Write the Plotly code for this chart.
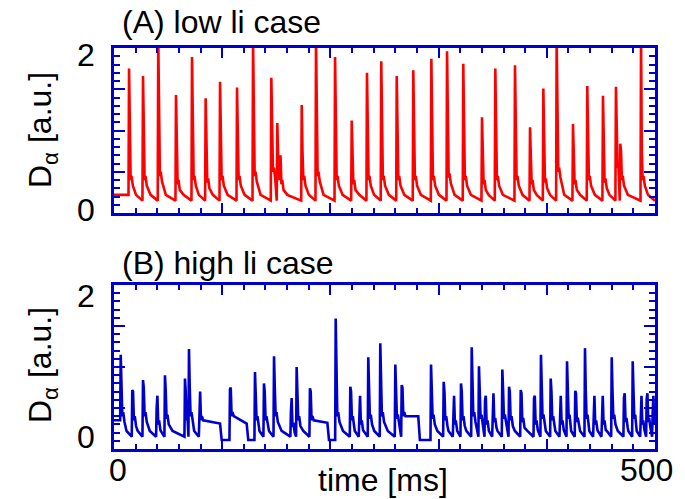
import plotly.graph_objects as go
from plotly.subplots import make_subplots

# ---------------- data ----------------
# (A) low li case : ELM spike times [ms], peak heights [a.u.], echo levels
low_t = [13.9, 26.8, 40.9, 57.3, 72.1, 84.7, 98.0, 113.7, 128.5, 145.4, 150.9, 153.2,
         173.5, 186.7, 204.3, 219.7, 233.8, 247.0, 261.3, 276.6, 293.3, 307.8, 322.8,
         340.1, 352.4, 370.6, 384.5, 396.8, 409.1, 424.2, 437.4, 451.9, 463.9, 467.9, 487.1]
low_peak = [1.75, 1.66, 2.10, 1.43, 1.89, 1.39, 1.59, 1.52, 2.10, 1.64, 1.09, 0.69,
            1.31, 2.10, 1.89, 1.12, 1.70, 1.84, 1.66, 1.73, 1.87, 1.96, 1.81,
            1.16, 1.75, 1.79, 1.04, 1.51, 2.10, 1.08, 1.54, 1.42, 1.53, 0.84, 2.10]
low_echo = [0.45, 0.45, 0.50, 0.40, 0.45, 0.42, 0.45, 0.45, 0.50, 0.55, 0.45, 0.40,
            0.45, 0.50, 0.45, 0.40, 0.45, 0.45, 0.45, 0.45, 0.45, 0.48, 0.45,
            0.40, 0.45, 0.45, 0.40, 0.42, 0.55, 0.40, 0.45, 0.42, 0.60, 0.45, 0.45]
low_base = 0.15
low_start = 0.22
low_end = 0.15

# (B) high li case
high_t = [6.2, 16.9, 26.8, 39.4, 47.1, 65.6, 69.3, 78.9, 107.2, 130.3, 138.6, 147.9,
          163.5, 168.8, 181.1, 204.9, 218.4, 226.7, 235.0, 246.1, 260.0, 265.9, 293.0,
          304.7, 313.6, 320.7, 330.6, 337.3, 342.9, 350.0, 358.9, 365.1, 375.9, 388.2,
          394.6, 403.6, 412.2, 418.7, 426.3, 435.3, 443.3, 451.0, 460.0, 471.3, 479.4,
          486.8, 492.3, 497.8]
high_peak = [1.15, 0.72, 0.84, 0.49, 0.90, 0.86, 1.22, 0.56, 0.73, 0.94, 0.80, 1.13,
             0.45, 1.00, 0.74, 1.59, 0.76, 0.55, 1.12, 1.29, 1.03, 0.78, 1.03,
             0.82, 0.52, 0.80, 1.24, 1.01, 0.59, 0.67, 0.97, 0.76, 0.72, 0.62,
             1.15, 0.86, 0.51, 1.07, 0.71, 1.23, 0.59, 0.56, 1.12, 0.62, 1.07,
             0.50, 0.61, 0.42]
high_echo = [0.45, 0.40, 0.45, 0.35, 0.42, 0.40, 0.45, 0.40, 0.45, 0.40, 0.40, 0.45,
             0.32, 0.40, 0.40, 0.45, 0.40, 0.35, 0.42, 0.45, 0.42, 0.45, 0.42,
             0.40, 0.35, 0.40, 0.45, 0.42, 0.35, 0.38, 0.42, 0.40, 0.38, 0.35,
             0.42, 0.40, 0.35, 0.42, 0.38, 0.42, 0.35, 0.35, 0.42, 0.38, 0.42,
             0.35, 0.38, 0.35]
# plateau phases after some ELMs: spike time, end of plateau [ms], level at end
high_plateau_after = [78.9, 107.2, 181.1, 265.9]
high_plateau_end = [98.0, 122.6, 197.2, 281.2]
high_plateau_level = [0.31, 0.31, 0.32, 0.40]
high_dip = 0.11
high_base = 0.15
high_start = 0.35
high_end = 0.30

x_tick_vals = [0, 100, 200, 300, 400, 500]
x_label_vals = [0, 500]
x_label_text = ["0", "500"]
y_tick_vals = [0, 0.5, 1.0, 1.5, 2.0]
y_label_vals = [0, 2]
y_label_text = ["0", "2"]


def build(times, peaks, echoes, base, start, end, plat_t=(), plat_end=(), plat_lvl=(), dip=None):
    xs, ys = [0.0], [start]
    plat = {t: (e, l) for t, e, l in zip(plat_t, plat_end, plat_lvl)}
    for i, (t, p, e) in enumerate(zip(times, peaks, echoes)):
        nxt = times[i + 1] if i + 1 < len(times) else 500.0
        if xs[-1] < t - 0.5:
            xs.append(t - 0.5); ys.append(ys[-1] if i == 0 else base)
        xs += [t, t + 0.7, t + 1.5, t + 2.3]
        ys += [p, e + 0.3, e - 0.05, e]
        if t in plat:
            pe, pl = plat[t]
            xs += [t + 3.5, pe, pe + 1.5]
            ys += [e - 0.05, pl, dip]
            xs.append(nxt - 0.5); ys.append(dip)
        else:
            gap = nxt - t
            if gap > 5:
                xs += [t + 3.5, t + min(7.0, gap * 0.5)]
                ys += [e - 0.12, base + 0.07]
    xs.append(500.0); ys.append(end)
    ox, oy = [], []
    for x, y in zip(xs, ys):
        if ox and x <= ox[-1]:
            continue
        ox.append(x); oy.append(y)
    return ox, oy


lx, ly = build(low_t, low_peak, low_echo, low_base, low_start, low_end)
hx, hy = build(high_t, high_peak, high_echo, high_base, high_start, high_end,
               high_plateau_after, high_plateau_end, high_plateau_level, high_dip)

AXC = "#0000cc"
FONT = "Liberation Sans, Arial, sans-serif"
FS = 32

fig = make_subplots(rows=2, cols=1, vertical_spacing=0.0)
fig.add_trace(go.Scatter(x=lx, y=ly, mode="lines", line=dict(color="#ff0000", width=2.6),
                         showlegend=False), row=1, col=1)
fig.add_trace(go.Scatter(x=hx, y=hy, mode="lines", line=dict(color=AXC, width=2.6),
                         showlegend=False), row=2, col=1)

common_x = dict(range=[0, 500], tickvals=x_tick_vals, showticklabels=False,
                ticks="inside", ticklen=10, tickwidth=2,
                tickcolor=AXC, showline=True, linecolor=AXC, linewidth=3, mirror="allticks",
                showgrid=False, zeroline=False,
                minor=dict(ticks="inside", dtick=20, tick0=0, ticklen=5, tickwidth=2, tickcolor=AXC,
                           showgrid=False))
common_y = dict(range=[0, 2], tickvals=y_tick_vals, showticklabels=False,
                ticks="inside", ticklen=11,
                tickwidth=2, tickcolor=AXC, showline=True, linecolor=AXC, linewidth=3,
                mirror="allticks", showgrid=False, zeroline=False,
                minor=dict(ticks="inside", dtick=0.1, tick0=0, ticklen=6, tickwidth=2, tickcolor=AXC,
                           showgrid=False))

fig.update_xaxes(**common_x)
fig.update_yaxes(**common_y)

H = 499
top_px, bot_px = 48, 449
plot_h = bot_px - top_px
fig.update_layout(
    width=685, height=499,
    margin=dict(l=114, r=30, t=top_px, b=H - bot_px),
    paper_bgcolor="white", plot_bgcolor="white",
    font=dict(family=FONT, size=FS, color="black"),
    yaxis=dict(domain=[(bot_px - 213) / plot_h, 1.0]),
    yaxis2=dict(domain=[0.0, (bot_px - 285) / plot_h]),
    xaxis=dict(domain=[0, 1]), xaxis2=dict(domain=[0, 1]),
)


def py(p):
    return (bot_px - p) / plot_h


def px(p):
    return (p - 114) / (655 - 114)


anns = [
    dict(text="(A) low li case", x=px(120), y=py(22), xanchor="left", yanchor="middle"),
    dict(text="(B) high li case", x=px(120), y=py(263), xanchor="left", yanchor="middle"),
    dict(text="D<sub>α</sub> [a.u.]", x=px(42), y=py(130), xanchor="center", yanchor="middle",
         textangle=-90),
    dict(text="D<sub>α</sub> [a.u.]", x=px(42), y=py(365), xanchor="center", yanchor="middle",
         textangle=-90),
    dict(text="time [ms]", x=px(383), y=py(480), xanchor="center", yanchor="middle"),
]
# tick labels, nudged inward as in the reference
top_y_px = {0: 210, 2: 55}
bot_y_px = {0: 437, 2: 296}
for v, t in zip(y_label_vals, y_label_text):
    anns.append(dict(text=t, x=px(97), y=py(top_y_px[v]), xanchor="right", yanchor="middle"))
    anns.append(dict(text=t, x=px(97), y=py(bot_y_px[v]), xanchor="right", yanchor="middle"))
x_lab_px = {0: 118, 500: 646}
for v, t in zip(x_label_vals, x_label_text):
    anns.append(dict(text=t, x=px(x_lab_px[v]), y=py(470), xanchor="center", yanchor="middle"))

for a in anns:
    a.update(xref="paper", yref="paper", showarrow=False,
             font=dict(family=FONT, size=FS, color="black"))
fig.update_layout(annotations=anns)

fig.write_html("out.html")
